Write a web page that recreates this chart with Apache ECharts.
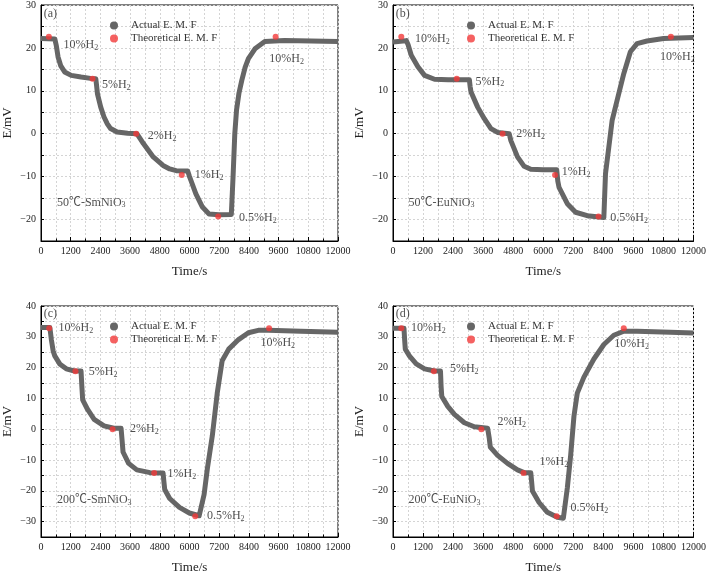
<!DOCTYPE html>
<html><head><meta charset="utf-8">
<script src="https://cdn.jsdelivr.net/npm/echarts@6/dist/echarts.min.js"></script>
<style>html,body{margin:0;padding:0;background:#fff}#c{width:709px;height:575px}</style>
</head><body><div id="c"></div>
<script>
// ---------- DATA ----------
const xTickValues = [0,1200,2400,3600,4800,6000,7200,8400,9600,10800,12000];
const legendNames = ['Actual E. M. F', 'Theoretical E. M. F'];

const actualA = [[0,22.2],[557,22.1],[620,20.5],[689,17.9],[800,15.8],[955,14.4],[1220,13.6],[1618,13.2],[2000,12.9],[2214,12.8],[2250,11],[2281,9.3],[2413,6.2],[2546,3.9],[2680,2.3],[2811,1.2],[3076,0.4],[3500,0.1],[3872,0],[4000,-1.1],[4137,-2.3],[4535,-5.4],[4932,-7.4],[5200,-8.2],[5463,-8.6],[5927,-8.7],[5990,-9.8],[6059,-10.9],[6258,-14],[6523,-17.1],[6789,-18.7],[7186,-18.9],[7690,-18.8],[7760,-10],[7830,0],[7900,5.5],[8000,9.5],[8115,12.5],[8250,15.5],[8380,17.5],[8645,19.8],[9043,21.5],[9838,21.7],[12000,21.5]];
const theoA = [[318,22.6],[2082,12.8],[3845,0],[5688,-9.6],[7160,-19.3],[9480,22.6]];
const labelsA = [[888,20.6,'10%H2'],[2440,11.3,'5%H2'],[4296,-0.6,'2%H2'],[6192,-9.5,'1%H2'],[7982,-19.6,'0.5%H2'],[9202,17.5,'10%H2'],[623,-16,'50℃-SmNiO3'],[93,28,'(a)']];

const actualB = [[0,21.4],[400,21.6],[530,21.7],[600,20.8],[729,18.3],[994,15.6],[1260,13.6],[1657,12.7],[2200,12.6],[3050,12.6],[3080,11.0],[3116,9.7],[3381,6.2],[3646,3.5],[3911,1.2],[4177,0.3],[4641,0],[4707,-1.6],[4972,-5.4],[5237,-7.6],[5502,-8.3],[6000,-8.4],[6537,-8.4],[6580,-11],[6630,-12.5],[6961,-16.3],[7293,-18.3],[7757,-19.1],[8420,-19.5],[8486,-9.3],[8619,-3.1],[8751,3.1],[8950,7.8],[9215,14],[9480,19.1],[9745,21],[10143,21.6],[10806,22.2],[12000,22.4]];
const theoB = [[331,22.6],[2546,12.8],[4376,0],[6471,-9.6],[8207,-19.3],[11097,22.6]];
const labelsB = [[862,22.2,'10%H2'],[3276,12.2,'5%H2'],[4906,0,'2%H2'],[6720,-8.9,'1%H2'],[8658,-19.6,'0.5%H2'],[10647,18,'10%H2'],[597,-16,'50℃-EuNiO3'],[93,28,'(b)']];

const actualC = [[0,33],[358,33],[420,29],[491,25.4],[557,23.8],[756,21.2],[1021,19.6],[1352,18.9],[1618,18.9],[1650,14],[1684,9.5],[1883,6.4],[2148,3.2],[2546,1.1],[2944,0.3],[3235,0.3],[3275,-3.5],[3315,-7.4],[3540,-11.1],[3872,-13.2],[4402,-14.1],[4932,-14.2],[4965,-17],[4999,-19.6],[5198,-22.5],[5595,-25.4],[5993,-27.2],[6391,-28.1],[6457,-28.2],[6590,-21.2],[6723,-12.7],[6922,-2.1],[7120,11.7],[7319,22.2],[7584,26],[7982,29.1],[8380,31.3],[8777,32.1],[9175,32.1],[10501,31.8],[12000,31.5]];
const theoC = [[331,32.8],[1392,18.8],[2891,0],[4574,-14.2],[6232,-28.3],[9215,32.8]];
const labelsC = [[689,32.8,'10%H2'],[1909,18.5,'5%H2'],[3580,0,'2%H2'],[5092,-14.6,'1%H2'],[6683,-28.1,'0.5%H2'],[8844,28.1,'10%H2'],[623,-22.8,'200℃-SmNiO3'],[93,37.3,'(c)']];

const actualD = [[0,32.8],[438,32.8],[465,29],[491,26],[663,23.7],[928,21.2],[1260,19.6],[1657,18.9],[1896,18.9],[1920,14],[1949,10.6],[2188,7.4],[2453,4.8],[2851,2.1],[3248,0.8],[3779,0.3],[3805,0.3],[3845,-3],[3885,-5.8],[4177,-8.5],[4574,-11.1],[4972,-13.2],[5237,-14.1],[5502,-14.1],[5535,-17],[5569,-20.1],[5834,-23.8],[6165,-27],[6563,-28.6],[6802,-28.9],[6961,-19.1],[7094,-8.5],[7226,4.2],[7359,11.7],[7624,16.9],[8022,22.8],[8420,27.5],[8817,30.5],[9215,31.8],[9745,31.8],[11071,31.5],[12000,31.2]];
const theoD = [[331,32.8],[1631,18.8],[3527,0],[5211,-14.2],[6537,-28.3],[9215,32.8]];
const labelsD = [[703,32.8,'10%H2'],[2254,19.6,'5%H2'],[4150,2.3,'2%H2'],[5834,-10.6,'1%H2'],[7067,-25.4,'0.5%H2'],[8817,27.8,'10%H2'],[597,-22.8,'200℃-EuNiO3'],[93,37.3,'(d)']];

const yRangeTop = [-25, 30];
const yRangeBottom = [-35, 40];

// ---------- CHART ----------
const FONT = '"Liberation Serif","Noto Sans CJK SC",serif';
const TXT = '#222';
const panels = [
  {grid:{left:36, top:5, width:302, height:236}, actual:actualA, theo:theoA, labels:labelsA, y:yRangeTop, legend:{left:105, top:15}},
  {grid:{left:393, top:5, width:302, height:236}, actual:actualB, theo:theoB, labels:labelsB, y:yRangeTop, legend:{left:462, top:15}},
  {grid:{left:36, top:306, width:302, height:236}, actual:actualC, theo:theoC, labels:labelsC, y:yRangeBottom, legend:{left:105, top:316}},
  {grid:{left:393, top:306, width:302, height:236}, actual:actualD, theo:theoD, labels:labelsD, y:yRangeBottom, legend:{left:462, top:316}}
];

function fmt(s){ return '{m|' + s.replace(/([HO])(\d)$/, '$1}{s|$2') + '}'; }

const option = {
  animation:false,
  backgroundColor:'#fff',
  grid:[], xAxis:[], yAxis:[], series:[], legend:[]
};

panels.forEach((p,i)=>{
  option.grid.push(Object.assign({show:true, borderColor:'#000', borderWidth:1, backgroundColor:'transparent'}, p.grid));
  option.xAxis.push({
    gridIndex:i, type:'value', min:0, max:12000, interval:1200,
    name:'Time/s', nameLocation:'middle', nameGap:24,
    nameTextStyle:{fontFamily:FONT, fontSize:13, color:TXT},
    axisLine:{onZero:false, lineStyle:{color:'#000', width:1}},
    axisTick:{inside:true, length:4, lineStyle:{color:'#000'}},
    minorTick:{show:true, splitNumber:2, length:2.5, lineStyle:{color:'#000'}},
    splitLine:{show:true, lineStyle:{color:'#d4d4d4', type:[2,2], width:1}},
    minorSplitLine:{show:true, lineStyle:{color:'#d4d4d4', type:[2,2], width:1}},
    axisLabel:{fontFamily:FONT, fontSize:10, color:TXT, margin:5, showMinLabel:true, showMaxLabel:true,
      formatter:v=> xTickValues.indexOf(v) >= 0 ? String(v) : ''}
  });
  option.yAxis.push({
    gridIndex:i, type:'value', min:p.y[0], max:p.y[1], interval:5,
    name:'E/mV', nameLocation:'middle', nameGap:27, nameRotate:90,
    nameTextStyle:{fontFamily:FONT, fontSize:13, color:TXT},
    axisLine:{onZero:false, lineStyle:{color:'#000', width:1}},
    axisTick:{inside:true, length:3, lineStyle:{color:'#000'}},
    splitLine:{show:true, lineStyle:{color:'#d4d4d4', type:[2,2], width:1}},
    axisLabel:{fontFamily:FONT, fontSize:10, color:TXT, margin:5,
      formatter:v=> (v % 10 === 0) ? String(v).replace('-', '\u2212') : ''}
  });
  option.legend.push({
    left:p.legend.left, top:p.legend.top, orient:'vertical', itemGap:2, itemWidth:8, itemHeight:8,
    icon:'circle', selectedMode:false, data:legendNames,
    textStyle:{fontFamily:FONT, fontSize:11, color:'#333', padding:[0,0,0,8]}
  });
  option.series.push({
    name:legendNames[0], type:'line', xAxisIndex:i, yAxisIndex:i, data:p.actual,
    showSymbol:false, symbol:'circle', symbolSize:8, smooth:false,
    lineStyle:{color:'#666', width:5, join:'round', cap:'butt'}, itemStyle:{color:'#666'}, z:2
  });
  option.series.push({
    name:legendNames[1], type:'scatter', xAxisIndex:i, yAxisIndex:i, data:p.theo,
    symbol:'circle', symbolSize:6, itemStyle:{color:'#f23a3a'}, z:4
  });
  option.series.push({
    name:'labels'+i, type:'scatter', xAxisIndex:i, yAxisIndex:i, silent:true,
    symbolSize:1, itemStyle:{color:'rgba(0,0,0,0)'}, z:5,
    data:p.labels.map(l=>({value:[l[0], l[1]], name:l[2]})),
    label:{show:true, position:'right', distance:0, color:'#222',
      formatter:q=>fmt(q.name),
      rich:{
        m:{fontFamily:FONT, fontSize:12, color:'#222', lineHeight:14, verticalAlign:'middle'},
        s:{fontFamily:FONT, fontSize:8, color:'#222', lineHeight:8, verticalAlign:'bottom'}
      }}
  });
});

const chart = echarts.init(document.getElementById('c'), null, {renderer:'canvas'});
chart.setOption(option);
</script>
</body></html>
